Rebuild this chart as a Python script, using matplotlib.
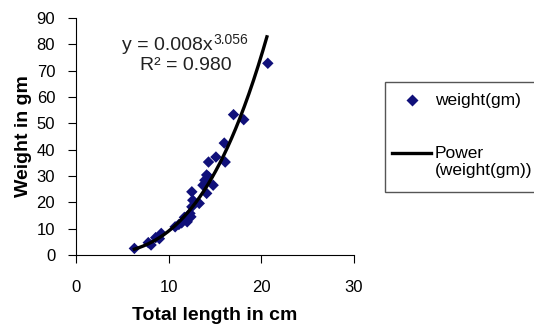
import matplotlib.pyplot as plt
from matplotlib.patches import Rectangle
from matplotlib.lines import Line2D
import numpy as np

# total length (cm) and weight (gm)
length_cm = [6.3, 7.8, 8.1, 8.6, 9.0, 9.2, 10.7, 11.1, 11.4, 11.7, 12.0, 12.3,
             12.4, 12.5, 12.5, 12.6, 13.3, 13.7, 13.9, 14.1, 14.1, 14.3, 14.3,
             14.8, 15.1, 16.0, 16.1, 17.0, 18.1, 20.7]
weight_gm = [2.5, 4.7, 3.8, 6.6, 6.2, 8.2, 10.7, 11.6, 12.2, 14.3, 12.6, 15.8,
             14.5, 18.3, 24.0, 20.8, 19.6, 26.5, 28.4, 23.4, 30.4, 35.3, 29.7,
             26.5, 37.2, 42.5, 35.3, 53.3, 51.4, 72.8]

coef_a = 0.008
coef_b = 3.056
r_squared = 0.980

x_ticks = [0, 10, 20, 30]
y_ticks = [0, 10, 20, 30, 40, 50, 60, 70, 80, 90]

plt.rcParams['font.family'] = ['Liberation Sans', 'DejaVu Sans']

W, H = 534, 327
fig = plt.figure(figsize=(W / 100, H / 100), dpi=100)
ax = fig.add_axes([76 / W, 1 - 255 / H, 278 / W, 237 / H])

mcolor = '#10107a'
ax.scatter(length_cm, weight_gm, marker='D', s=34, color=mcolor,
           edgecolors='none', zorder=3)
xs = np.linspace(min(length_cm), 20.6, 200)
ax.plot(xs, coef_a * xs ** coef_b, color='black', lw=2.4, zorder=4)

ax.set_xlim(0, 30)
ax.set_ylim(0, 90)
ax.set_xticks(x_ticks)
ax.set_yticks(y_ticks)
for s in ['top', 'right']:
    ax.spines[s].set_visible(False)
ax.tick_params(direction='out', length=6, labelsize=12, colors='black')
ax.tick_params(axis='x', pad=12)
ax.tick_params(axis='y', pad=9)
ax.set_xlabel('Total length in cm', fontsize=14, fontweight='bold', labelpad=9)
ax.set_ylabel('Weight in gm', fontsize=14, fontweight='bold', labelpad=3)

fx = lambda px: px / W
fy = lambda py: 1 - py / H

# trendline equation, superscript hung off the end of the first line
t1 = fig.text(fx(122), fy(45), 'y = %.3fx' % coef_a, fontsize=14,
              color='#222222', va='center')
ax.annotate('%.3f' % coef_b, xy=(1, 1), xycoords=t1, xytext=(0.5, 2.5),
            textcoords='offset points', ha='left', va='top', fontsize=10,
            color='#222222')
fig.text(fx(186), fy(66), 'R² = %.3f' % r_squared, fontsize=14,
         color='#222222', ha='center', va='center')

# legend box, running off the right edge like the original
fig.patches.append(Rectangle((fx(385), fy(192)), fx(200), 110 / H,
                             transform=fig.transFigure, facecolor='white',
                             edgecolor='#555555', lw=1.0))
fig.lines.append(Line2D([fx(412)], [fy(100)], marker='D', markersize=6,
                        color=mcolor, markeredgecolor='none',
                        transform=fig.transFigure))
fig.text(fx(435), fy(100), 'weight(gm)', fontsize=12.5, va='center')
fig.lines.append(Line2D([fx(392), fx(431)], [fy(153), fy(153)], color='black',
                        lw=2.4, transform=fig.transFigure))
fig.text(fx(435), fy(153), 'Power', fontsize=12.5, va='center')
fig.text(fx(435), fy(171), '(weight(gm))', fontsize=12.5, va='center')

fig.savefig('out.png', dpi=100)
